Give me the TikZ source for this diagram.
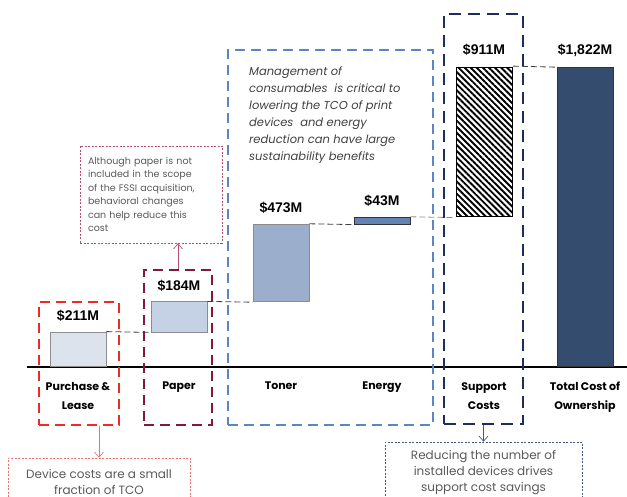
\documentclass[tikz,border=0pt]{standalone}
\usepackage{fontspec}
\setmainfont{Poppins}
\newfontfamily\valfont{Liberation Sans}
\usepackage{xcolor}
\usetikzlibrary{arrows.meta,positioning,patterns.meta}

\definecolor{purchasefill}{HTML}{DCE3ED}
\definecolor{paperfill}{HTML}{C5D1E4}
\definecolor{tonerfill}{HTML}{9BAFCD}
\definecolor{energyfill}{HTML}{6482B4}
\definecolor{totalfill}{HTML}{344C6E}
\definecolor{boxred}{HTML}{F02828}
\definecolor{boxmaroon}{HTML}{7F1A3A}
\definecolor{boxblue}{HTML}{5A86C2}
\definecolor{boxnavy}{HTML}{1F2D5E}
\definecolor{notegray}{HTML}{595959}
\definecolor{notepink}{HTML}{B4506E}
\definecolor{notered}{HTML}{F07070}

\begin{document}
\begin{tikzpicture}[x=1pt, y=-1pt,
    bar/.style={rectangle, draw=gray!90, line width=0.8pt, minimum width=56pt, inner sep=0pt, anchor=south},
    value/.style={font=\valfont\bfseries\fontsize{14}{16}\selectfont, inner sep=0pt},
    category/.style={font=\bfseries\fontsize{11}{19}\selectfont, align=center, anchor=north, inner sep=0pt},
    groupbox/.style={rectangle, dash pattern=on 10pt off 6pt, line width=2.4pt, inner sep=0pt},
    notebox/.style={rectangle, dash pattern=on 2pt off 1.5pt, line width=0.7pt, text=notegray, inner sep=0pt},
    link/.style={dash pattern=on 6pt off 3pt, line width=0.8pt, draw=black!75},
    notearrow/.style={-{Straight Barb[length=5pt, width=9pt]}, line width=0.7pt}
]
    \useasboundingbox (0,0) rectangle (627,497);
    \clip (0,0) rectangle (627,497);

    % axis
    \draw[line width=1.5pt] (27,367) -- (627,367);

    % bars
    \node[bar, fill=purchasefill, minimum height=34.6pt] (purchase) at (78,367) {};
    \node[bar, fill=paperfill, minimum height=30.2pt] (paper) at (179,332.4) {};
    \node[bar, fill=tonerfill, minimum height=77.6pt] (toner) at (281,302.2) {};
    \node[bar, fill=energyfill, draw=black!80, minimum height=7pt] (energy) at (382,224.6) {};
    \node[bar, draw=black, pattern={Lines[angle=-45, distance=4.3pt, line width=1.9pt]}, minimum height=149.6pt] (support) at (484,217.6) {};
    \node[bar, fill=totalfill, draw=black!80, minimum height=299pt] (total) at (585,367) {};

    % connectors between bars
    \draw[link] (purchase.north east) -- (paper.south west);
    \draw[link] (paper.north east) -- (toner.south west);
    \draw[link] (toner.north east) -- (energy.south west);
    \draw[link, draw=black!45] (energy.north east) -- (support.south west);
    \draw[link] (support.north east) -- (total.north west);

    % values
    \node[value, above=10pt of purchase] (v1) {\$211M};
    \node[value, above=10pt of paper] (v2) {\$184M};
    \node[value, above=10pt of toner] (v3) {\$473M};
    \node[value, above=10pt of energy] (v4) {\$43M};
    \node[value, above=10pt of support] (v5) {\$911M};
    \node[value, above=10pt of total] (v6) {\$1,822M};

    % categories
    \node[category] (c1) at (78,382) {Purchase \&\\Lease};
    \node[category] (c2) at (179,382) {Paper};
    \node[category] (c3) at (281,382) {Toner};
    \node[category] (c4) at (382,382) {Energy};
    \node[category] (c5) at (484,382) {Support\\Costs};
    \node[category] (c6) at (585,382) {Total Cost of\\Ownership};

    % group boxes
    \node[groupbox, draw=boxred, minimum width=80pt, minimum height=123pt] (purchasebox) at (79,363.5) {};
    \node[groupbox, draw=boxmaroon, minimum width=68pt, minimum height=155pt] (paperbox) at (178,347.5) {};
    \node[groupbox, draw=boxblue, line width=2pt, minimum width=205pt, minimum height=375pt] (consumbox) at (330.5,237.5) {};
    \node[groupbox, draw=boxnavy, line width=2.8pt, dash pattern=on 12pt off 7pt, minimum width=79pt, minimum height=410pt] (supportbox) at (483.5,219) {};

    % consumables text
    \node[anchor=north west, align=left, inner sep=0pt, text=black!75,
          font=\itshape\fontsize{11.5}{17}\selectfont] (mgmt) at (249,67)
        {Management of\\consumables\ \ is critical to\\lowering the TCO of print\\devices\ \ and energy\\reduction can have large\\sustainability benefits};

    % notes
    \node[notebox, draw=notepink, minimum width=142pt, minimum height=97pt, text width=126pt, align=left,
          font=\fontsize{9.5}{13.5}\selectfont] (papernote) at (151,194.5)
        {Although paper is not\\included in the scope\\of the FSSI acquisition,\\behavioral changes\\can help reduce this\\cost};
    \node[notebox, draw=notered, minimum width=182pt, minimum height=47pt, align=center,
          font=\fontsize{12}{16}\selectfont] (devnote) at (99,481.5)
        {Device costs are a small\\fraction of TCO};
    \node[notebox, draw=boxnavy!80, minimum width=197pt, minimum height=62pt, align=center,
          font=\fontsize{12}{16}\selectfont] (supportnote) at (483.5,473)
        {Reducing the number of\\installed devices drives\\support cost savings};

    % note arrows
    \draw[notearrow, draw=notered] (purchasebox.south -| devnote.north) -- (devnote.north);
    \draw[notearrow, draw=notepink] (paperbox.north) -- (paperbox.north |- papernote.south);
    \draw[notearrow, draw=boxnavy!80] (supportbox.south) -- (supportbox.south |- supportnote.north);
\end{tikzpicture}
\end{document}
